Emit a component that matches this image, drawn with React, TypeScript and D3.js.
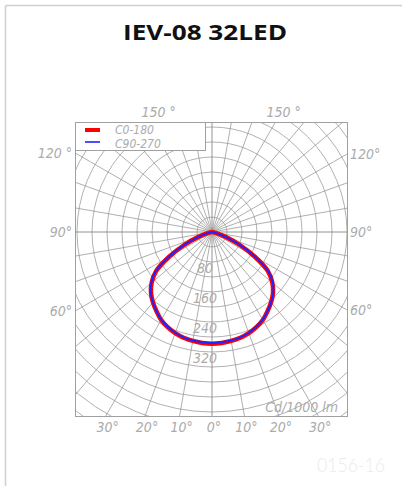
import React from 'react';
import * as d3 from 'd3';

// Data (cd/1000 lm) by angle from nadir
const angles = [0, 5, 10, 15, 20, 25, 30, 35, 40, 45, 50, 55, 60, 65, 70, 75, 80, 85, 90];
const c0_180 = [298, 297, 295, 292, 287, 280, 271, 258, 245, 230, 210, 182, 132, 82, 40, 12, 2, 0, 0];
const c90_270 = [296, 295, 294, 291, 286, 279, 270, 258, 245, 231, 212, 184, 134, 83, 40, 12, 2, 0, 0];
const ringValues = d3.range(40, 721, 40);
const ringLabels = [80, 160, 240, 320];
const spokeAngles = d3.range(0, 360, 10);
const bottomTicks = [-30, -20, -10, 0, 10, 20, 30];
const sideTicks = [60, 90, 120];
const topTicks = [150];
const legendItems = ['C0-180', 'C90-270'];
const title = 'IEV-08 32LED';
const unitLabel = 'Cd/1000 lm';
const watermark = '0156-16';

const W = 402;
const H = 486;
const cx = 212;
const cy = 232;
const box = { x0: 75, y0: 122, x1: 347, y1: 416 };
const labelFont = "'Liberation Sans Narrow', 'DejaVu Sans Condensed', 'Liberation Sans', sans-serif";
const labelColor = '#ababab';

const rScale = d3.scaleLinear().domain([0, 40]).range([0, 15]);
const rad = (deg: number) => (deg * Math.PI) / 180;

function buildPoints(vals: number[]): [number, number][] {
  // left half (C180 / C270, negative angles) then right half (C0 / C90)
  const pts: [number, number][] = [];
  for (let i = angles.length - 1; i >= 0; i--) pts.push([-rad(angles[i]), vals[i]]);
  for (let i = 1; i < angles.length; i++) pts.push([rad(angles[i]), vals[i]]);
  return pts;
}

const radialLine = d3
  .lineRadial<[number, number]>()
  .angle((d) => Math.PI - d[0])
  .radius((d) => rScale(d[1]))
  .curve(d3.curveCatmullRom.alpha(0.5));

function Deg({ x, y, text, anchor }: { x: number; y: number; text: string; anchor: string }) {
  return (
    <text x={x} y={y} textAnchor={anchor as any} fontFamily={labelFont} fontStyle="italic" fontSize={14} fill={labelColor}>
      {text}
    </text>
  );
}

export default function App() {
  const bw = box.x1 - box.x0;
  const left = cx - box.x0;
  const right = box.x1 - cx;
  const up = cy - box.y0;
  const down = box.y1 - cy;
  const maxR = 320;

  return (
    <svg width={W} height={H} style={{ position: 'absolute', left: 0, top: 0, background: '#fff' }}>
      <defs>
        <clipPath id="gridclip">
          <rect x={box.x0} y={box.y0} width={bw} height={box.y1 - box.y0} />
        </clipPath>
      </defs>
      {/* frame */}
      <line x1={5.5} y1={5.5} x2={W} y2={5.5} stroke="#cfcfcf" strokeWidth={1.5} />
      <line x1={5.5} y1={5.5} x2={5.5} y2={H} stroke="#cfcfcf" strokeWidth={1.5} />

      <text
        x={123}
        y={40}
        textLength={164}
        lengthAdjust="spacingAndGlyphs"
        fontFamily="'Open Sans', sans-serif"
        fontWeight={700}
        fontSize={21}
        fill="#111"
      >
        {title}
      </text>

      <g clipPath="url(#gridclip)">
        {ringValues.map((v) => (
          <circle key={v} cx={cx} cy={cy} r={rScale(v)} fill="none" stroke="#a8a8a8" strokeWidth={0.9} />
        ))}
        {spokeAngles.map((a) => (
          <line
            key={a}
            x1={cx}
            y1={cy}
            x2={cx + maxR * Math.sin(rad(a))}
            y2={cy + maxR * Math.cos(rad(a))}
            stroke={a % 90 === 0 ? '#7a7a7a' : '#9a9a9a'}
            strokeWidth={0.8}
          />
        ))}
      </g>
      <rect x={box.x0 + 0.5} y={box.y0 + 0.5} width={bw} height={box.y1 - box.y0} fill="none" stroke="#a0a0a0" strokeWidth={1} />

      {/* ring labels */}
      {ringLabels.map((v) => (
        <text key={v} x={205} y={cy + rScale(v) + 11} textAnchor="middle" fontFamily={labelFont} fontStyle="italic" fontSize={14} fill={labelColor}>
          {v}
        </text>
      ))}

      {/* curves */}
      <path d={radialLine(buildPoints(c0_180)) || ''} transform={`translate(${cx},${cy})`} fill="none" stroke="#ff0000" strokeWidth={4.5} strokeLinejoin="round" />
      <path d={radialLine(buildPoints(c90_270)) || ''} transform={`translate(${cx},${cy})`} fill="none" stroke="#2222ff" strokeWidth={2} strokeLinejoin="round" />

      {/* legend */}
      <rect x={box.x0 + 0.5} y={box.y0 + 0.5} width={130} height={28} fill="#fff" stroke="#a0a0a0" strokeWidth={1} />
      <line x1={85} x2={100} y1={130} y2={130} stroke="#ff0000" strokeWidth={4} />
      <line x1={85} x2={100} y1={142} y2={142} stroke="#2222ff" strokeWidth={1.6} />
      {legendItems.map((t, i) => (
        <text key={t} x={115} y={133.5 + i * 14} fontFamily={labelFont} fontStyle="italic" fontSize={12} fill={labelColor}>
          {t}
        </text>
      ))}

      {/* angle labels */}
      {topTicks.map((a) => {
        const dx = up * Math.tan(rad(180 - a));
        return (
          <g key={a}>
            <Deg x={cx - dx - 7} y={box.y0 - 5} text={`${a} °`} anchor="start" />
            <Deg x={cx + dx - 9} y={box.y0 - 5} text={`${a} °`} anchor="start" />
          </g>
        );
      })}
      {sideTicks.map((a) => {
        const yl = cy + left / Math.tan(rad(a));
        const yr = cy + right / Math.tan(rad(a));
        const txt = a >= 100 ? `${a} °` : `${a}°`;
        return (
          <g key={a}>
            <Deg x={box.x0 - 3} y={yl + 5} text={txt} anchor="end" />
            <Deg x={box.x1 + 3} y={yr + 5} text={`${a}°`} anchor="start" />
          </g>
        );
      })}
      {bottomTicks.map((a) => {
        const x = cx + down * Math.tan(rad(a));
        return <Deg key={a} x={x + 2} y={box.y1 + 16} text={`${Math.abs(a)}°`} anchor="middle" />;
      })}

      <text x={338} y={412} textAnchor="end" fontFamily={labelFont} fontStyle="italic" fontSize={14} fill={labelColor}>
        {unitLabel}
      </text>

      <text
        x={317}
        y={472}
        textLength={68}
        lengthAdjust="spacingAndGlyphs"
        fontFamily="Lato, 'Open Sans', sans-serif"
        fontWeight={300}
        fontSize={20}
        fill="#ebebeb"
      >
        {watermark}
      </text>
    </svg>
  );
}
